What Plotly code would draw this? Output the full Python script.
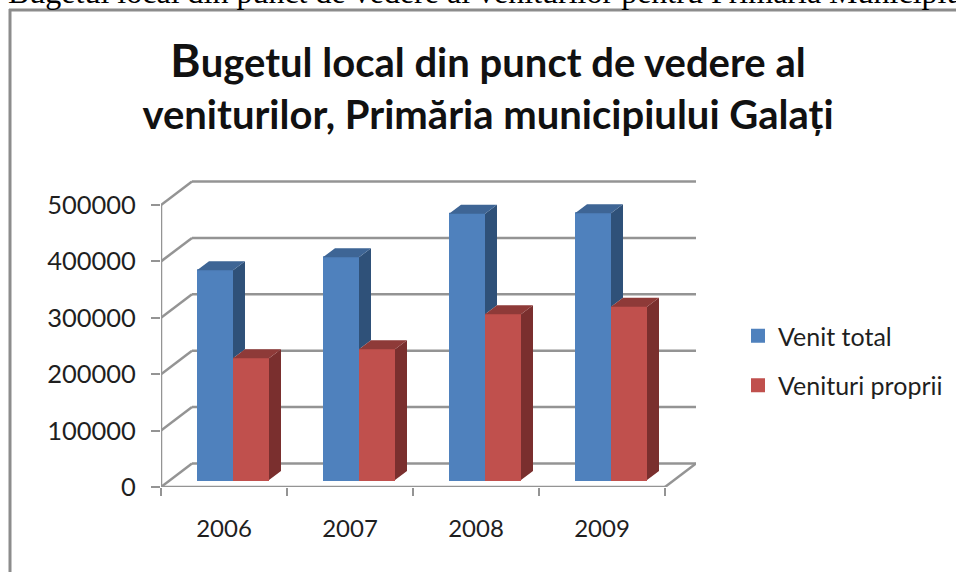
import plotly.graph_objects as go

# ---- data ----
years = [2006, 2007, 2008, 2009]
venit_total = [372000, 395000, 472000, 473000]
venituri_proprii = [216000, 232000, 294000, 307000]
y_ticks = [0, 100000, 200000, 300000, 400000, 500000]
title_first = "B"
title_rest = "ugetul local din punct de vedere al<br>veniturilor, Primăria municipiului Galați"
page_text = "Bugetul local din punct de vedere al veniturilor pentru Primăria Municipiului Galați"

# ---- pixel geometry of the oblique view ----
W, H = 956, 572
L, R, T, B = 161, 260, 176, 85
PX_CAT = 126.0                 # pixels per category
PX_Y = 282.0 / 500000          # pixels per value unit
ux = 1 / PX_CAT
uy = 1 / PX_Y
wall_dx, wall_dy = 31 * ux, 23.5 * uy
bar_dx, bar_dy = 12 * ux, 9 * uy
floor = 7 * uy
bar_w = 36 * ux
x0, x1 = years[0] - 0.5, years[-1] + 0.5

BLUE, BLUE_TOP, BLUE_SIDE = "#4F81BD", "#3E6595", "#2F5179"
RED, RED_TOP, RED_SIDE = "#C0504D", "#8E3A38", "#7A2F2E"
GRID = "#949494"
TXT = "#1F1F1F"
FONT = "Lato"


def poly(points_list):
    xs, ys = [], []
    for pts in points_list:
        for a, b in pts + [pts[0]]:
            xs.append(a)
            ys.append(b)
        xs.append(None)
        ys.append(None)
    return xs, ys


def face(points_list, color):
    xs, ys = poly(points_list)
    return go.Scatter(x=xs, y=ys, mode="lines", fill="toself", fillcolor=color,
                      line=dict(width=0, color=color), showlegend=False,
                      hoverinfo="skip")


fig = go.Figure()

blue_left = -27 * ux
red_left = 9 * ux
fig.add_bar(x=years, y=venit_total, base=[floor] * 4, name="Venit total", width=bar_w - 2 * ux,
            offset=blue_left + ux, marker=dict(color=BLUE, line=dict(color=BLUE, width=2)),
            legendgroup="a")
fig.add_bar(x=years, y=venituri_proprii, base=[floor] * 4, name="Venituri proprii", width=bar_w - 2 * ux,
            offset=red_left + ux, marker=dict(color=RED, line=dict(color=RED, width=2)),
            legendgroup="b")

blue_top, blue_side, red_top, red_side = [], [], [], []
for yr, vb, vr in zip(years, venit_total, venituri_proprii):
    bl = yr + blue_left
    rl = yr + red_left
    rr = rl + bar_w
    tb = floor + vb
    tr = floor + vr
    blue_top.append([(bl, tb), (rl, tb), (rl + bar_dx, tb + bar_dy), (bl + bar_dx, tb + bar_dy)])
    blue_side.append([(rl, tr), (rl, tb), (rl + bar_dx, tb + bar_dy), (rl + bar_dx, tr + bar_dy)])
    red_top.append([(rl, tr), (rr, tr), (rr + bar_dx, tr + bar_dy), (rl + bar_dx, tr + bar_dy)])
    red_side.append([(rr, floor), (rr, tr), (rr + bar_dx, tr + bar_dy), (rr + bar_dx, floor + bar_dy)])

fig.add_trace(face(blue_side, BLUE_SIDE))
fig.add_trace(face(blue_top, BLUE_TOP))
fig.add_trace(face(red_side, RED_SIDE))
fig.add_trace(face(red_top, RED_TOP))

# back wall, side wall and floor, computed from the axis ticks
shapes = []


def seg(xa, ya, xb, yb):
    shapes.append(dict(type="line", xref="x", yref="y", x0=xa, y0=ya, x1=xb, y1=yb,
                       layer="below", line=dict(color=GRID, width=2.5)))


for t in y_ticks:
    seg(x0, t, x0 + wall_dx, t + wall_dy)
    seg(x0 + wall_dx, t + wall_dy, x1 + wall_dx, t + wall_dy)
seg(x0, y_ticks[0], x0, y_ticks[-1])
seg(x0, 0, x1, 0)
seg(x1, 0, x1 + wall_dx, wall_dy)

# document frame around the pasted chart


def px_x(p):
    return (p - L) / (W - L - R)


def px_y(p):
    return 1 - (p - T) / (H - T - B)


for a, b, c, d in [(9, 10, 956, 10), (10, 9, 10, 572)]:
    shapes.append(dict(type="line", xref="paper", yref="paper", x0=px_x(a), y0=px_y(b),
                       x1=px_x(c), y1=px_y(d), layer="below",
                       line=dict(color="#8C8C8C", width=3)))

fig.update_layout(
    width=W, height=H, autosize=False,
    margin=dict(l=L, r=R, t=T, b=B, autoexpand=False),
    paper_bgcolor="white", plot_bgcolor="white",
    barmode="overlay", shapes=shapes,
    font=dict(family=FONT, color=TXT),
    title=dict(
        text=f'<b><span style="font-size:46px">{title_first}</span>{title_rest}</b>',
        x=488 / W, xanchor="center", xref="container",
        y=1 - 77 / H, yanchor="middle", yref="container",
        font=dict(family="Lato", size=40, color="#111111")),
    legend=dict(x=px_x(738), y=px_y(313), xanchor="left", yanchor="top",
                font=dict(family=FONT, size=25, color=TXT),
                tracegroupgap=14, bgcolor="rgba(0,0,0,0)", itemclick=False, itemdoubleclick=False),
    xaxis=dict(type="linear", range=[x0, x1 + wall_dx], tickmode="array", tickvals=years,
               ticktext=[str(y) for y in years], ticks="", showgrid=False, zeroline=False,
               showline=False, ticklabelstandoff=25, tickfont=dict(family=FONT, size=24, color=TXT),
               minor=dict(tickmode="array", tickvals=[y - 0.5 for y in years] + [x1], ticks="outside",
                          ticklen=8, tickwidth=2, tickcolor=GRID, showgrid=False)),
    yaxis=dict(range=[0, (H - B - T) * uy], tickmode="array", tickvals=y_ticks,
               ticktext=[str(v) for v in y_ticks], ticks="outside", ticklen=9, tickwidth=2,
               tickcolor=GRID, showgrid=False, zeroline=False, showline=False,
               ticklabelstandoff=10, tickfont=dict(family=FONT, size=25.5, color=TXT)),
    annotations=[dict(text=page_text, xref="paper", yref="paper", x=px_x(6), y=px_y(12),
                      xanchor="left", yanchor="bottom", showarrow=False, align="left",
                      font=dict(family="Liberation Serif", size=32, color="#000000"))],
)

fig.write_html("out.html", config={"displayModeBar": False},
               post_script="document.body.style.margin='0';document.body.style.overflow='hidden';")
